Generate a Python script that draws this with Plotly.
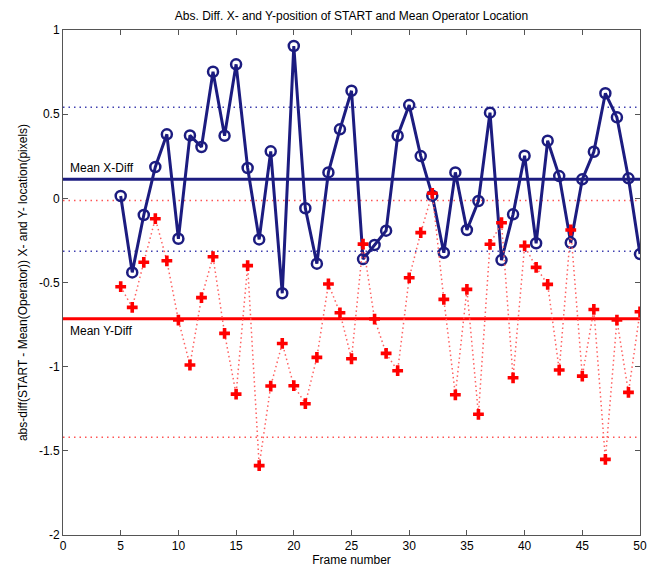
import numpy as np
import plotly.graph_objects as go

frames = list(range(5, 51))
x_diff = [0.014, -0.44, -0.099, 0.186, 0.380, -0.240, 0.374, 0.305, 0.752, 0.372,
          0.796, 0.180, -0.244, 0.279, -0.564, 0.905, -0.059, -0.388, 0.154, 0.410,
          0.639, -0.361, -0.277, -0.192, 0.372, 0.554, 0.251, 0.016, -0.323, 0.154,
          -0.188, -0.016, 0.509, -0.367, -0.095, 0.253, -0.267, 0.342, 0.132, -0.264,
          0.113, 0.277, 0.624, 0.481, 0.119, -0.331]
y_diff = [-0.525, -0.648, -0.380, -0.121, -0.371, -0.723, -0.990, -0.590, -0.347, -0.802,
          -1.163, -0.400, -1.588, -1.115, -0.862, -1.113, -1.220, -0.945, -0.509, -0.680,
          -0.953, -0.272, -0.717, -0.921, -1.024, -0.472, -0.204, 0.030, -0.600, -1.167,
          -0.541, -1.283, -0.273, -0.145, -1.066, -0.283, -0.410, -0.511, -1.020, -0.188,
          -1.056, -0.660, -1.551, -0.723, -1.153, -0.674]
band_x = 0.428
band_y = 0.703
x_ticks = list(range(0, 51, 5))
y_ticks = [-2, -1.5, -1, -0.5, 0, 0.5, 1]
y_tick_labels = ["-2", "-1.5", "-1", "-0.5", "0", "0.5", "1"]

mean_x = float(np.mean(x_diff))
mean_y = float(np.mean(y_diff))

NAVY = "#1c1c80"
NAVY_DOT = "#4040b0"
RED = "#ff0000"
RED_DOT = "#ff5555"
FONT = "Liberation Sans, Arial, sans-serif"

fig = go.Figure()

def hline(y, color, dash, width):
    fig.add_trace(go.Scatter(x=[0, 50], y=[y, y], mode="lines",
                             line=dict(color=color, dash=dash, width=width),
                             showlegend=False, hoverinfo="skip"))

DOT = "1.5px,4px"
hline(mean_x + band_x, NAVY_DOT, DOT, 1.5)
hline(mean_x - band_x, NAVY_DOT, DOT, 1.5)
hline(mean_y + band_y, RED_DOT, DOT, 1.5)
hline(mean_y - band_y, RED_DOT, DOT, 1.5)
hline(mean_x, NAVY, "solid", 3)
hline(mean_y, RED, "solid", 3)

fig.add_trace(go.Scatter(x=frames, y=x_diff, mode="lines+markers",
                         line=dict(color=NAVY, width=3),
                         marker=dict(symbol="circle-open", size=10, color=NAVY,
                                     line=dict(width=2.5, color=NAVY)),
                         showlegend=False))
fig.add_trace(go.Scatter(x=frames, y=y_diff, mode="lines+markers",
                         line=dict(color="#ff6060", width=1.5, dash="1.5px,3px"),
                         marker=dict(symbol="cross", size=9, color=RED),
                         showlegend=False))

fig.add_annotation(x=0.4, y=mean_x, text="Mean X-Diff", showarrow=False,
                   xanchor="left", yanchor="bottom", yshift=2,
                   font=dict(family=FONT, size=12, color="black"))
fig.add_annotation(x=0.4, y=mean_y, text="Mean Y-Diff", showarrow=False,
                   xanchor="left", yanchor="top", yshift=-3,
                   font=dict(family=FONT, size=12, color="black"))

axis_common = dict(showline=True, linecolor="#555555", linewidth=1, mirror="ticks",
                   ticks="inside", ticklen=5, tickcolor="#555555", showgrid=False,
                   zeroline=False, automargin=False,
                   tickfont=dict(family=FONT, size=12, color="black"))

fig.update_xaxes(range=[0, 50], tickvals=x_ticks, ticktext=[str(t) for t in x_ticks],
                 title=dict(text="Frame number", standoff=2,
                            font=dict(family=FONT, size=12, color="black")),
                 **axis_common)
fig.update_yaxes(range=[-2, 1], tickvals=y_ticks, ticktext=y_tick_labels,
                 title=dict(text="abs-diff(START - Mean(Operator)) X- and Y- location(pixels)",
                            standoff=8, font=dict(family=FONT, size=12, color="black")),
                 **axis_common)

fig.update_layout(
    width=655, height=572,
    margin=dict(l=63, r=15, t=30, b=37),
    plot_bgcolor="white", paper_bgcolor="white",
    title=dict(text="Abs. Diff. X- and Y-position of START and Mean Operator Location",
               x=(63 + 640) / 2 / 655, xanchor="center", y=1 - 16 / 572, yanchor="middle",
               font=dict(family=FONT, size=12, color="black")),
)

fig.write_html("out.html")
